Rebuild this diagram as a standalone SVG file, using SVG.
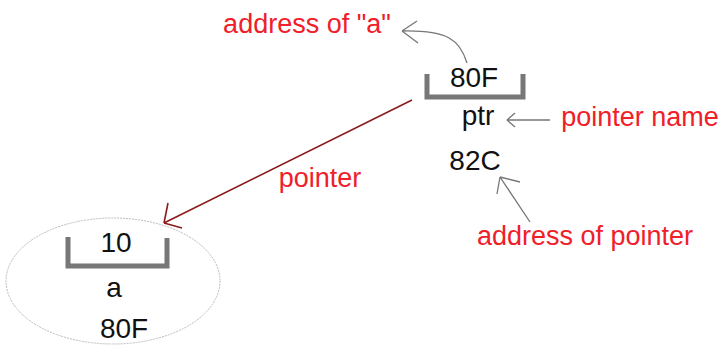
<svg xmlns="http://www.w3.org/2000/svg" width="722" height="346" viewBox="0 0 722 346">
<style>
.blk{font-family:"Liberation Sans",Arial,sans-serif;font-size:28px;fill:#111;text-anchor:middle}
.red{font-family:"Liberation Sans",Arial,sans-serif;font-size:27px;fill:#f0202a;text-anchor:middle}
.box{fill:none;stroke:#777;stroke-width:5}
.gray{fill:none;stroke:#777;stroke-width:1.3}
.ptr{fill:none;stroke:#8b1a1a;stroke-width:1.6}
</style>
<rect width="722" height="346" fill="#fff"/>
<g id="ptr-node">
<path class="box" d="M427,74 V97 H523 V74"/>
<text class="blk" x="474" y="87">80F</text>
<text class="blk" x="478" y="125">ptr</text>
<text class="blk" x="475" y="170">82C</text>
</g>
<g id="a-node">
<ellipse cx="113" cy="281" rx="107" ry="63" fill="none" stroke="#bbb" stroke-width="1" stroke-dasharray="2,1"/>
<path class="box" d="M68,237 V266 H167 V238"/>
<text class="blk" x="116" y="252">10</text>
<text class="blk" x="114" y="297">a</text>
<text class="blk" x="124" y="338">80F</text>
</g>
<g id="labels">
<text class="red" x="307" y="33">address of "a"</text>
<text class="red" x="640" y="126">pointer name</text>
<text class="red" x="585" y="245">address of pointer</text>
<text class="red" x="320" y="187">pointer</text>
</g>
<g id="connectors">
<path class="gray" d="M467,63 C460,40 448,30 402,31 M402,31 L417,21 M402,31 L418,43"/>
<path class="gray" d="M550,120 H507 M507,120 L515,113 M507,120 L515,127"/>
<path class="gray" d="M530,222 L500,177 M500,177 L497,194 M500,177 L520,182"/>
<path class="ptr" d="M412,100 L164,223 M164,223 L168,203 M164,223 L182,228"/>
</g>
</svg>
